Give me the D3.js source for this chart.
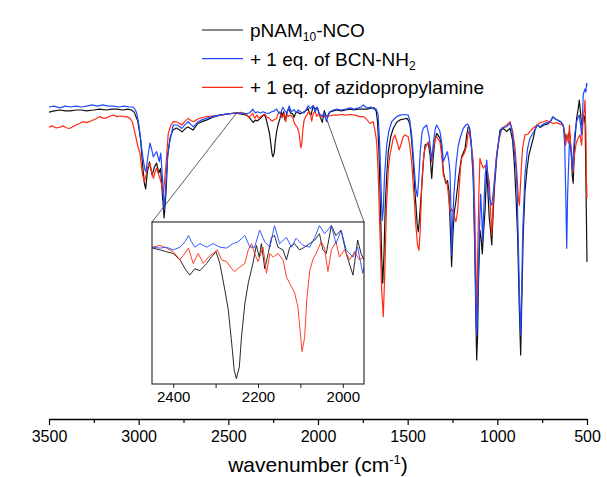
<!DOCTYPE html>
<html>
<head>
    <meta charset="utf-8">
    <title>FTIR spectra</title>
    <script type="text/javascript" src="https://cdnjs.cloudflare.com/ajax/libs/d3/7.8.5/d3.min.js"></script>
    <style>
        body { margin: 0; background: #fff; }
        svg { font-family: "Liberation Sans", Arial, sans-serif; }
    </style>
</head>

<body>

<script type="text/javascript">
    // wavenumber (cm-1), transmittance (a.u.)
    var seriesNames = ["pNAM10-NCO", "+ 1 eq. of BCN-NH2", "+ 1 eq. of azidopropylamine"];

    var blackSpec = [
        [3500,89.3],[3470,89.7],[3440,90],[3410,89.7],[3380,89.7],[3350,90],[3320,90],[3290,89.7],[3250,90],[3220,90.3],[3180,90],[3150,90.3],[3120,90.3],[3090,90],[3060,90.3],[3040,90],[3025,89.3],[3005,86.3],[2990,80.7],[2978,71.7],[2968,65.5],[2961,63.7],[2952,69],[2940,72.7],[2925,68.3],[2912,71],[2900,72.3],[2888,69],[2878,70.5],[2868,62],[2858,54],[2848,62],[2838,75],[2825,80.7],[2809,83.3],[2790,84],[2770,83.3],[2758,82.7],[2740,83.8],[2725,84.3],[2710,83.8],[2697,83.3],[2670,85.5],[2640,86.3],[2619,86.7],[2590,87.5],[2547,88.3],[2500,88.7],[2460,89],
        [2449,88.9],[2431,88.7],[2416,88.5],[2400,88.3],[2384,87.6],[2372,86.6],[2361,85.9],[2349,86.6],[2337,86.4],[2321,87.2],[2310,87.9],[2299,88.5],[2290,87.2],[2278,84.2],[2270,82.0],[2262,78.3],[2256,75.3],[2251,74.4],[2244,75.7],[2239,79.0],[2231,82.7],[2223,85.0],[2212,87.2],[2204,89.2],[2197,87.9],[2192,89.4],[2184,86.6],[2176,88.3],[2168,90.1],[2161,90.3],[2153,89.0],[2141,88.7],[2133,87.6],[2125,89.0],[2114,89.4],[2102,88.7],[2090,89.0],[2078,89.4],[2066,89.8],[2055,90.5],[2047,88.7],[2039,88.3],[2027,91.4],[2016,90.3],[2004,90.9],[1992,88.3],[1976,85.9],[1965,89.8],[1957,88.3],[1950,87.6],
        [1935,89.3],[1915,89.7],[1895,90],[1870,89.7],[1845,90],[1820,90.3],[1800,90],[1775,90.3],[1750,90.3],[1725,90.3],[1700,90.7],[1685,90.7],[1675,89.5],[1668,86],[1660,76],[1652,58],[1645,41],[1639,32.3],[1632,42],[1625,58],[1617,68],[1608,76.1],[1595,81],[1580,83.9],[1560,86],[1543,86.7],[1520,87],[1505,87.2],[1495,86.5],[1487,85],[1478,80],[1469,72.8],[1460,63],[1454,58.3],[1447,52],[1441,49.4],[1435,53],[1428,59],[1422,64],[1412,73],[1403,78.3],[1385,78.9],[1375,75],[1366,67.2],[1358,74],[1348,80],[1338,82.2],[1320,80.6],[1310,77],[1301,69.4],[1288,65.6],[1278,66.5],[1270,63],[1262,50],[1255,37.8],[1248,48],[1240,56],[1230,60],[1215,68],[1199,74.4],[1180,77.2],[1170,82],[1162,84.4],[1155,84],[1145,79],[1134,67],[1125,42],[1119,18],[1115,6.7],[1110,15],[1105,33],[1097,50],[1090,47],[1084,42],[1076,50],[1068,57],[1059,70.7],[1052,62],[1045,54],[1038,50],[1031,45],[1024,55],[1015,65],[1002,75],[985,83.3],[965,83.8],[948,82.8],[929,83.9],[915,80],[905,72],[895,60],[887,48.3],[878,25],[870,8.3],[864,25],[856,48],[846,62.8],[835,70],[824,75],[812,77.8],[800,80.5],[790,83.3],[778,85],[762,84.2],[740,85],[720,85.3],[706,86],[690,87.7],[675,87],[660,86.5],[645,86],[632,84.5],[620,81],[612,80],[598,82.8],[588,76],[582,68],[577,65.6],[570,78],[558,87.2],[550,90],[543,93.3],[536,89],[530,85],[521,87],[515,88],[510,85],[505,62],[500,39.3]
    ];

    var blueSpec = [
        [3500,91],[3470,91.3],[3440,90.7],[3410,91.3],[3380,91],[3350,91.3],[3320,91],[3290,91.3],[3260,91.7],[3230,91.3],[3200,91.7],[3170,91.3],[3140,91.3],[3110,91],[3080,91.3],[3050,91],[3030,91],[3018,90],[3011,88.9],[3000,85.5],[2993,82.2],[2983,77],[2974,73.3],[2965,70],[2959,69.4],[2950,74],[2937,79],[2928,77],[2918,74.4],[2908,75.5],[2900,76.1],[2885,72.8],[2877,75.6],[2868,68],[2857,56.7],[2848,66],[2838,75],[2825,80],[2807,85],[2785,85],[2760,83.9],[2740,85.2],[2723,86.1],[2710,85.2],[2695,84.4],[2670,86],[2645,86.8],[2620,87.2],[2590,87.8],[2547,88.3],[2500,88.7],[2460,89],
        [2449,89.0],[2431,88.9],[2416,89.0],[2400,88.7],[2384,89.0],[2372,89.6],[2364,90.3],[2357,89.6],[2349,89.0],[2337,89.4],[2321,89.0],[2306,89.4],[2290,89.0],[2274,88.9],[2259,89.4],[2247,89.6],[2231,90.3],[2219,89.0],[2208,89.0],[2196,90.9],[2184,89.6],[2172,89.0],[2161,91.4],[2149,89.4],[2133,90.1],[2121,89.0],[2110,90.0],[2094,89.2],[2078,89.0],[2066,90.1],[2055,91.4],[2043,90.5],[2027,91.4],[2016,89.4],[2004,90.9],[1992,88.7],[1976,87.9],[1965,89.0],[1953,86.1],[1950,86.8],
        [1935,89.3],[1915,90],[1895,90.3],[1870,90],[1845,90.3],[1820,90.7],[1800,90.3],[1775,90.7],[1760,91],[1747,91.7],[1735,91],[1720,90.7],[1705,91],[1690,90.3],[1675,90.3],[1665,88.5],[1657,80],[1650,68],[1645,58],[1641,53.3],[1636,57],[1629,68],[1617,78.3],[1605,83],[1589,86.1],[1575,87],[1561,87.8],[1543,88.3],[1520,88.5],[1497,88.3],[1488,86.5],[1478,82],[1465,72],[1455,64],[1446,61.1],[1438,67],[1430,76],[1420,82.5],[1413,83.9],[1394,85],[1380,81],[1366,73.3],[1355,80],[1345,84],[1338,85],[1320,82.8],[1310,79],[1301,72.8],[1290,74.5],[1279,76.1],[1270,73],[1264,69.4],[1258,55],[1255,41.7],[1250,52],[1242,62],[1230,72],[1218,78],[1208,80.6],[1190,83.9],[1175,85],[1165,85.3],[1155,84],[1145,78],[1134,67.2],[1125,42],[1119,24],[1115,15],[1110,25],[1100,50],[1093,62],[1087,55],[1082,46],[1075,58],[1068,68],[1059,73.3],[1052,67],[1045,61.7],[1038,59],[1031,58.3],[1020,64],[1004,75],[990,81],[976,83.9],[948,84.4],[929,85.6],[918,83],[905,76],[895,70],[889,61.7],[880,38],[874,22],[870,15],[865,28],[858,50],[846,68.3],[832,77],[818,80.6],[800,82.5],[790,83.5],[778,85],[762,84.4],[745,85.3],[725,85.8],[706,86],[690,87.7],[675,87],[660,86.5],[645,86],[632,85],[624,78],[618,60],[613,43.9],[608,62],[598,79.4],[588,76],[580,70],[577,75],[568,82],[558,86.1],[550,87.5],[543,88.3],[536,85],[530,81.7],[525,88],[521,95],[512,97],[506,96],[502,98.9],[500,98]
    ];

    var redSpec = [
        [3500,84.3],[3480,84.7],[3460,84],[3440,84.3],[3420,84.7],[3400,84],[3383,83.9],[3365,84.5],[3350,85],[3330,85.5],[3309,86.1],[3290,85.8],[3260,86.5],[3240,87],[3216,87.8],[3200,87.3],[3180,87.3],[3160,88],[3141,88.3],[3120,87.8],[3100,88],[3080,87.8],[3067,87.8],[3048,87.2],[3035,86],[3020,82.2],[3005,78],[2993,75.6],[2980,69],[2969,66.1],[2960,68],[2950,71],[2937,72.2],[2928,69.5],[2918,67.2],[2908,69.5],[2900,70.6],[2885,67.8],[2875,66],[2863,61.7],[2850,70],[2835,82.2],[2820,85],[2807,86.1],[2785,86],[2760,85],[2740,86.3],[2723,87.2],[2710,86.5],[2695,86.1],[2670,87],[2645,87.5],[2620,87.8],[2590,88],[2547,88.3],[2500,88.7],[2460,89],
        [2449,89.0],[2431,89.2],[2416,88.9],[2400,88.5],[2384,87.6],[2376,88.1],[2364,88.9],[2353,87.2],[2341,88.3],[2329,87.2],[2317,87.9],[2306,88.3],[2296,88.7],[2286,87.6],[2274,87.4],[2262,86.6],[2255,86.3],[2243,86.8],[2231,87.2],[2223,88.7],[2215,89.4],[2208,88.3],[2200,87.4],[2188,89.0],[2180,86.1],[2172,88.3],[2164,87.9],[2153,88.3],[2141,87.6],[2133,85.7],[2121,84.6],[2114,84.0],[2106,82.4],[2100,79.4],[2096,77.4],[2090,79.0],[2085,83.1],[2078,86.4],[2070,87.7],[2063,88.3],[2051,89.6],[2043,88.9],[2035,86.3],[2027,88.7],[2016,89.6],[2008,87.9],[1996,88.7],[1984,87.6],[1972,88.5],[1961,87.6],[1950,87.9],
        [1935,88],[1915,88.3],[1894,88.3],[1870,88.5],[1845,88.3],[1820,88.5],[1795,88.3],[1766,87.8],[1747,87.8],[1730,87],[1710,85.5],[1692,86.1],[1682,83],[1673,79.4],[1665,70],[1655,50],[1645,30],[1636,21.1],[1628,35],[1618,58],[1608,70],[1599,75],[1580,80.6],[1571,81.7],[1560,79.5],[1547,76.7],[1535,79],[1525,81],[1515,81.7],[1497,81.1],[1488,78],[1478,72.8],[1465,62],[1455,52],[1445,45],[1437,43.3],[1430,50],[1420,67],[1410,75],[1403,77.2],[1385,79.4],[1375,77],[1366,72.8],[1355,78],[1345,80.5],[1338,81.1],[1320,79.4],[1310,75],[1301,68.3],[1290,66.5],[1279,65],[1270,60],[1264,56.1],[1255,57],[1245,56],[1238,54],[1231,52.8],[1222,56],[1215,62],[1205,71],[1199,73.9],[1185,75.5],[1171,78],[1162,82.8],[1155,82],[1145,78],[1134,72.8],[1125,55],[1119,33],[1115,22.8],[1110,40],[1103,62],[1097,73.9],[1088,72],[1078,70.6],[1068,71.5],[1059,70.6],[1052,68.5],[1045,66.1],[1038,57],[1031,48.3],[1024,58],[1015,67],[1004,75],[990,80],[976,83.9],[960,84.5],[948,85],[929,86.1],[915,83],[901,77.2],[890,68],[882,60],[877,58.3],[870,66],[864,73],[859,77.2],[846,81.7],[830,82],[818,82.8],[800,84],[778,85],[760,85.8],[744,86.1],[725,86.5],[706,86.1],[690,85.5],[670,85.8],[650,85.3],[632,85],[625,82],[619,78.3],[612,82],[604,79],[598,85],[588,76],[582,71],[577,69.4],[570,75],[560,79],[550,80.5],[539,81.7],[530,78.3],[521,87.2],[515,90],[511,93.3],[506,82],[503,66],[500,60.7]
    ];

    var mainTicks = [3500, 3000, 2500, 2000, 1500, 1000, 500];
    var mainMinorTicks = [3250, 2750, 2250, 1750, 1250, 750];
    var insetTicks = [2400, 2200, 2000];
    var insetMinorTicks = [2300, 2100];
    var insetRange = [2450, 1950];

    var w = 607,
        h = 477,
        colors = ["#111111", "#1f4bff", "#ff2a12"];

    var svg = d3.select("body").append("svg")
        .attr("width", w)
        .attr("height", h);

    var x = d3.scaleLinear().domain([3500, 500]).range([49, 587]);
    var y = d3.scaleLinear().domain([0, 100]).range([380, 80]);

    var line = d3.line()
        .x(function (d) { return x(d[0]); })
        .y(function (d) { return y(d[1]); });

    var specs = [blackSpec, blueSpec, redSpec];

    // main spectra
    svg.append("g").selectAll("path")
        .data([0, 2, 1])
        .enter().append("path")
        .attr("d", function (i) { return line(specs[i]); })
        .style("fill", "none")
        .style("stroke", function (i) { return colors[i]; })
        .style("stroke-width", "1.2px")
        .style("stroke-linejoin", "round");

    // main x axis
    var axisY = 419;
    var xAxis = svg.append("g")
        .attr("transform", "translate(0," + axisY + ")")
        .call(d3.axisBottom(x).tickValues(mainTicks).tickSize(6).tickPadding(6)
            .tickFormat(d3.format("d")).tickSizeOuter(0));
    xAxis.selectAll("text").style("font-size", "16px").style("fill", "#000");
    xAxis.select(".domain").style("stroke", "#000").style("stroke-width", "1.3px");
    xAxis.selectAll(".tick line").style("stroke", "#000").style("stroke-width", "1.2px");

    svg.append("g")
        .attr("transform", "translate(0," + axisY + ")")
        .call(d3.axisBottom(x).tickValues(mainMinorTicks).tickSize(4).tickFormat("").tickSizeOuter(0))
        .call(function (g) { g.select(".domain").remove(); })
        .selectAll(".tick line").style("stroke", "#000").style("stroke-width", "1.2px");

    var title = svg.append("text")
        .attr("x", (x.range()[0] + x.range()[1]) / 2)
        .attr("y", 472)
        .attr("text-anchor", "middle")
        .style("font-size", "21px");
    title.append("tspan").text("wavenumber (cm");
    title.append("tspan").attr("dy", -8).style("font-size", "13px").text("-1");
    title.append("tspan").attr("dy", 8).text(")");

    // inset
    var ix = d3.scaleLinear().domain(insetRange).range([152, 364]);
    var iy = d3.scaleLinear().domain([73.8, 91.8]).range([384, 222]);

    var iline = d3.line()
        .x(function (d) { return ix(d[0]); })
        .y(function (d) { return iy(d[1]); });

    // zoom connector lines
    svg.append("line")
        .attr("x1", x(insetRange[0])).attr("y1", y(89.3))
        .attr("x2", ix.range()[0]).attr("y2", iy.range()[1])
        .style("stroke", "#333").style("stroke-width", "0.8px");
    svg.append("line")
        .attr("x1", x(insetRange[1])).attr("y1", y(86.7))
        .attr("x2", ix.range()[1]).attr("y2", iy.range()[1])
        .style("stroke", "#333").style("stroke-width", "0.8px");

    svg.append("rect")
        .attr("x", 152).attr("y", 222)
        .attr("width", 212).attr("height", 162)
        .style("fill", "#fff");

    svg.append("clipPath").attr("id", "insetClip")
        .append("rect").attr("x", 152).attr("y", 222).attr("width", 212).attr("height", 162);

    svg.append("g").attr("clip-path", "url(#insetClip)")
        .selectAll("path")
        .data([0, 2, 1])
        .enter().append("path")
        .attr("d", function (i) {
            return iline(specs[i].filter(function (d) { return d[0] <= 2460 && d[0] >= 1940; }));
        })
        .style("fill", "none")
        .style("stroke", function (i) { return colors[i]; })
        .style("stroke-width", "0.9px");

    svg.append("rect")
        .attr("x", 152).attr("y", 222)
        .attr("width", 212).attr("height", 162)
        .style("fill", "none")
        .style("stroke", "#222")
        .style("stroke-width", "1.1px");

    var iAxis = svg.append("g")
        .attr("transform", "translate(0,384)")
        .call(d3.axisBottom(ix).tickValues(insetTicks).tickSize(4).tickPadding(3)
            .tickFormat(d3.format("d")).tickSizeOuter(0));
    iAxis.select(".domain").remove();
    iAxis.selectAll("text").style("font-size", "15px").style("fill", "#000");
    iAxis.selectAll(".tick line").style("stroke", "#222");

    svg.append("g")
        .attr("transform", "translate(0,384)")
        .call(d3.axisBottom(ix).tickValues(insetMinorTicks).tickSize(4).tickFormat("").tickSizeOuter(0))
        .call(function (g) { g.select(".domain").remove(); })
        .selectAll(".tick line").style("stroke", "#222");

    // legend
    var legend = svg.append("g").selectAll("g")
        .data(seriesNames)
        .enter().append("g")
        .attr("transform", function (d, i) { return "translate(202," + (30 + i * 28.7) + ")"; });

    legend.append("line")
        .attr("x1", 0).attr("x2", 41)
        .style("stroke", function (d, i) { return colors[i]; })
        .style("stroke-width", "1.2px");

    legend.append("text")
        .attr("x", 48)
        .attr("y", 7)
        .style("font-size", "19px")
        .each(function (d, i) {
            var t = d3.select(this);
            if (i === 0) {
                t.append("tspan").text("pNAM");
                t.append("tspan").attr("dy", 4).style("font-size", "12px").text("10");
                t.append("tspan").attr("dy", -4).text("-NCO");
            } else if (i === 1) {
                t.append("tspan").text("+ 1 eq. of BCN-NH");
                t.append("tspan").attr("dy", 4).style("font-size", "12px").text("2");
            } else {
                t.text(d);
            }
        });
</script>

</body>
</html>
